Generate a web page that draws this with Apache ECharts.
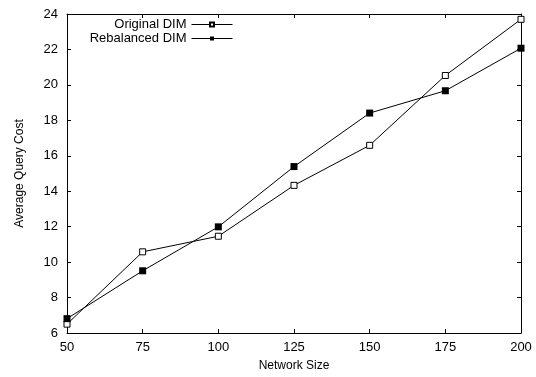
<!DOCTYPE html>
<html>
<head>
<meta charset="utf-8">
<script src="https://cdn.jsdelivr.net/npm/echarts@6/dist/echarts.min.js"></script>
<style>
  html, body { margin: 0; padding: 0; background: #fff; }
  #chart { width: 536px; height: 377px; }
</style>
</head>
<body>
<div id="chart"></div>
<script>
const networkSizes = [50, 75, 100, 125, 150, 175, 200];
const originalDim = [6.5, 10.58, 11.46, 14.33, 16.59, 20.53, 23.7];
const rebalancedDim = [6.81, 9.51, 11.99, 15.39, 18.41, 19.67, 22.07];

const font = "'Liberation Sans', Arial, sans-serif";
const black = "#000";

const chart = echarts.init(document.getElementById("chart"));

const pairs = (ys) => networkSizes.map((x, i) => [x, ys[i]]);

const xBase = {
  type: "value",
  min: 50,
  max: 200,
  interval: 25,
  splitLine: { show: false },
  axisLine: { show: true, onZero: false, lineStyle: { color: black, width: 1 } },
  axisTick: { show: true, inside: true, length: 4, lineStyle: { color: black } },
};
const yBase = {
  type: "value",
  min: 6,
  max: 24,
  interval: 2,
  splitLine: { show: false },
  axisLine: { show: true, onZero: false, lineStyle: { color: black, width: 1 } },
  axisTick: { show: true, inside: true, length: 4, lineStyle: { color: black } },
};

const legendCommon = {
  orient: "vertical",
  align: "right",
  right: 303,
  itemWidth: 41,
  itemHeight: 5,
  padding: 0,
  selectedMode: false,
  lineStyle: { width: 1 },
  textStyle: { fontFamily: font, fontSize: 13, color: black, padding: [0, 0, 0, 0] },
};

chart.setOption({
  animation: false,
  backgroundColor: "#fff",
  grid: { left: 67, right: 15, top: 14, bottom: 43 },
  legend: [
    Object.assign({}, legendCommon, { top: 18, data: ["Original DIM"] }),
    Object.assign({}, legendCommon, { top: 32, data: ["Rebalanced DIM"] }),
  ],
  xAxis: [
    Object.assign({}, xBase, {
      position: "bottom",
      name: "Network Size",
      nameLocation: "middle",
      nameGap: 27,
      nameTextStyle: { fontFamily: font, fontSize: 12, color: black },
      axisLabel: { fontFamily: font, fontSize: 13, color: black, margin: 8 },
    }),
    Object.assign({}, xBase, { position: "top", axisLabel: { show: false } }),
  ],
  yAxis: [
    Object.assign({}, yBase, {
      position: "left",
      name: "Average Query Cost",
      nameLocation: "middle",
      nameGap: 41,
      nameTextStyle: { fontFamily: font, fontSize: 12, color: black },
      axisLabel: { fontFamily: font, fontSize: 13, color: black, margin: 9 },
    }),
    Object.assign({}, yBase, { position: "right", axisLabel: { show: false } }),
  ],
  series: [
    {
      name: "Original DIM",
      type: "line",
      data: pairs(originalDim),
      symbol: "rect",
      symbolSize: 6,
      showAllSymbol: true,
      lineStyle: { color: black, width: 1 },
      itemStyle: { color: "#fff", borderColor: black, borderWidth: 1 },
    },
    {
      name: "Rebalanced DIM",
      type: "line",
      data: pairs(rebalancedDim),
      symbol: "rect",
      symbolSize: 7,
      showAllSymbol: true,
      lineStyle: { color: black, width: 1 },
      itemStyle: { color: black, borderColor: black, borderWidth: 0 },
    },
  ],
});
</script>
</body>
</html>
